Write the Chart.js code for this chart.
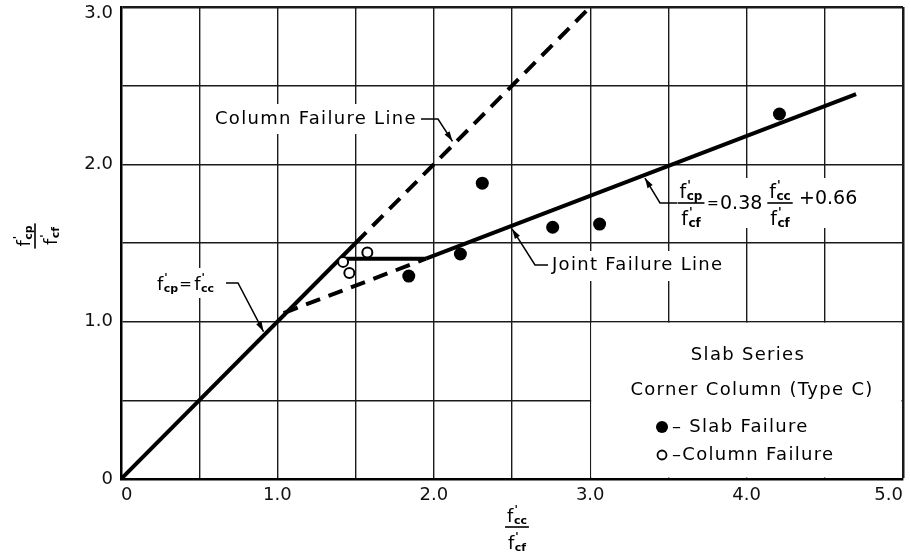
<!DOCTYPE html>
<html>
<head>
<meta charset="utf-8">
<script src="https://cdn.jsdelivr.net/npm/chart.js@4.4.1/dist/chart.umd.min.js"></script>
<style>
  html, body { margin: 0; padding: 0; background: #fff; }
</style>
</head>
<body>
<canvas id="chart" width="910" height="560"></canvas>
<script>
// Slab series, corner column (type C): f'cp/f'cf against f'cc/f'cf

// axis tick labels (gridlines every 0.5, labels on whole numbers)
const xTickValues = [0, 1, 2, 3, 4, 5];
const xTickLabels = ['0', '1.0', '2.0', '3.0', '4.0', '5.0'];
const yTickValues = [0, 1, 2, 3];
const yTickLabels = ['0', '1.0', '2.0', '3.0'];

// test results
const slabX = [1.84, 2.17, 2.31, 2.76, 3.06, 4.21];
const slabY = [1.29, 1.43, 1.88, 1.60, 1.62, 2.32];
const colX = [1.42, 1.46, 1.575];
const colY = [1.38, 1.31, 1.44];

// line end points
const equalX = [0, 1.5];          // f'cp = f'cc
const equalY = [0, 1.5];
const columnX = [1.5, 3.0];       // column failure line (dashed)
const columnY = [1.5, 3.0];
const jointDashX = [1.04, 1.95];  // joint line, dashed part
const jointDashY = [1.055, 1.40];
const jointX = [1.95, 4.70];      // joint failure line
const jointY = [1.40, 2.446];
const capX = [1.41, 1.95];
const capY = [1.40, 1.40];

const pts = (xs, ys) => xs.map((x, i) => ({ x: x, y: ys[i] }));

const FONT = '"DejaVu Sans", sans-serif';

// f' with a subscript, left at x, baseline y. returns width
function fSym(ctx, x, y, sub, size, dry) {
    ctx.font = size + 'px ' + FONT;
    const w = ctx.measureText('f').width;
    ctx.font = 'bold ' + Math.round(size * 0.62) + 'px ' + FONT;
    const ws = ctx.measureText(sub).width;
    if (dry) return w + 0.5 + ws;
    ctx.textAlign = 'left';
    ctx.textBaseline = 'alphabetic';
    ctx.font = size + 'px ' + FONT;
    ctx.fillText('f', x, y);
    ctx.font = 'bold ' + Math.round(size * 0.62) + 'px ' + FONT;
    ctx.fillText("'", x + w + 1, y - size * 0.5);
    ctx.fillText(sub, x + w + 0.5, y + 2);
    return w + 0.5 + ws;
}

function frac(ctx, cx, cy, top, bot, size) {
    const wt = fSym(ctx, 0, 0, top, size, true);
    const wb = fSym(ctx, 0, 0, bot, size, true);
    const w = Math.max(wt, wb);
    fSym(ctx, cx - wt / 2, cy - 5, top, size);
    fSym(ctx, cx - wb / 2, cy + 22, bot, size);
    ctx.fillRect(cx - w / 2 - 2, cy - 0.8, w + 4, 1.6);
}

function text(ctx, s, x, y, align, size) {
    ctx.font = (size || 18) + 'px ' + FONT;
    ctx.letterSpacing = '1.3px';
    ctx.textAlign = align || 'left';
    ctx.textBaseline = 'middle';
    ctx.fillText(s, x, y);
    ctx.letterSpacing = '0px';
}

// leader: polyline ending in an arrow head at the last point
function leader(ctx, path) {
    const n = path.length;
    const [ax, ay] = path[n - 2];
    let [bx, by] = path[n - 1];
    const len = Math.hypot(bx - ax, by - ay);
    const ux = (bx - ax) / len, uy = (by - ay) / len;
    bx -= ux * 3; by -= uy * 3;
    ctx.beginPath();
    ctx.moveTo(path[0][0], path[0][1]);
    for (let i = 1; i < n - 1; i++) ctx.lineTo(path[i][0], path[i][1]);
    ctx.lineTo(bx, by);
    ctx.lineWidth = 1.5;
    ctx.stroke();
    ctx.beginPath();
    ctx.moveTo(bx, by);
    ctx.lineTo(bx - ux * 10 - uy * 3, by - uy * 10 + ux * 3);
    ctx.lineTo(bx - ux * 10 + uy * 3, by - uy * 10 - ux * 3);
    ctx.closePath();
    ctx.fill();
}

const figurePlugin = {
    id: 'figure',
    beforeDatasetsDraw(chart) {
        const { ctx, scales: { x, y } } = chart;
        ctx.save();
        ctx.fillStyle = '#fff';
        // legend box over the lower right cells
        ctx.fillRect(x.getPixelForValue(3) + 1, y.getPixelForValue(1) + 1,
            x.getPixelForValue(5) - x.getPixelForValue(3) - 2.5,
            y.getPixelForValue(0) - y.getPixelForValue(1) - 2.5);
        // gaps in the grid behind the labels
        ctx.fillRect(209, 104, 214, 30);
        ctx.fillRect(153, 268, 74, 30);
        ctx.fillRect(547, 251, 180, 30);
        ctx.fillRect(673, 178, 192, 50);
        ctx.restore();
    },
    afterDatasetsDraw(chart) {
        const { ctx, scales: { x, y } } = chart;
        const px = (a, b) => [x.getPixelForValue(a), y.getPixelForValue(b)];
        ctx.save();
        ctx.fillStyle = '#000';
        ctx.strokeStyle = '#000';

        text(ctx, 'Column Failure Line', 215, 119);
        leader(ctx, [[421, 119], [438, 119], px(2.13, 2.13)]);

        let xx = fSym(ctx, 157, 290, 'cp', 18) + 157;
        ctx.font = '15px ' + FONT;
        ctx.textAlign = 'left';
        ctx.fillText('=', xx + 1, 289);
        fSym(ctx, xx + 16, 290, 'cc', 18);
        leader(ctx, [[226, 283], [238, 283], px(0.92, 0.92)]);

        text(ctx, 'Joint Failure Line', 552, 265);
        leader(ctx, [[548, 265], [535, 265], px(2.49, 1.606)]);

        frac(ctx, 691, 203, 'cp', 'cf', 19);
        ctx.font = '14px ' + FONT;
        ctx.textAlign = 'left';
        ctx.textBaseline = 'middle';
        ctx.fillText('=', 707, 204);
        ctx.font = '19px ' + FONT;
        ctx.fillText('0.38', 720, 204);
        frac(ctx, 780, 203, 'cc', 'cf', 19);
        ctx.font = '19px ' + FONT;
        ctx.fillText('+0.66', 799, 204);
        leader(ctx, [[677, 203], [660, 203], px(3.34, 1.929)]);

        // legend
        text(ctx, 'Slab Series', 748, 355, 'center');
        text(ctx, 'Corner Column (Type C)', 752, 390, 'center');
        ctx.beginPath();
        ctx.arc(662, 427, 6, 0, Math.PI * 2);
        ctx.fill();
        text(ctx, '– Slab Failure', 672, 427);
        ctx.beginPath();
        ctx.arc(662, 455, 4.5, 0, Math.PI * 2);
        ctx.lineWidth = 1.8;
        ctx.stroke();
        text(ctx, '–Column Failure', 672, 455);

        // axis titles
        frac(ctx, 517, 527, 'cc', 'cf', 18);
        ctx.translate(35, 236);
        ctx.rotate(-Math.PI / 2);
        frac(ctx, 0, 0, 'cp', 'cf', 18);
        ctx.restore();
    }
};

const lineSet = (data, dashed) => ({
    data: data,
    showLine: true,
    borderColor: '#000',
    borderWidth: 4,
    borderDash: dashed ? [15, 9] : [],
    borderCapStyle: 'butt',
    pointRadius: 0,
    fill: false
});

new Chart(document.getElementById('chart'), {
    type: 'scatter',
    data: {
        datasets: [
            {
                label: 'Slab Failure',
                data: pts(slabX, slabY),
                pointRadius: 6.5,
                pointBackgroundColor: '#000',
                pointBorderColor: '#000',
                pointBorderWidth: 0
            },
            {
                label: 'Column Failure',
                data: pts(colX, colY),
                pointRadius: 5,
                pointBackgroundColor: '#fff',
                pointBorderColor: '#000',
                pointBorderWidth: 2
            },
            lineSet(pts(equalX, equalY), false),
            lineSet(pts(columnX, columnY), true),
            lineSet(pts(jointDashX, jointDashY), true),
            lineSet(pts(jointX, jointY), false),
            lineSet(pts(capX, capY), false)
        ]
    },
    options: {
        responsive: false,
        animation: false,
        devicePixelRatio: 1,
        layout: { padding: { left: 0, right: 4, top: 7, bottom: 0 } },
        plugins: { legend: { display: false }, tooltip: { enabled: false } },
        scales: {
            x: {
                type: 'linear',
                min: 0,
                max: 5,
                afterFit(s) { s.height = 81; s.paddingLeft = 0; s.paddingRight = 0; },
                grid: {
                    color: '#1a1a1a',
                    lineWidth: c => (c.tick && c.tick.value === 5 ? 2.5 : 1.4),
                    drawTicks: false
                },
                border: { color: '#000', width: 2.5 },
                ticks: {
                    stepSize: 0.5,
                    autoSkip: false,
                    maxRotation: 0,
                    align: 'inner',
                    padding: 6,
                    color: '#111',
                    font: { family: 'DejaVu Sans', size: 18 },
                    callback: v => {
                        const i = xTickValues.indexOf(v);
                        return i >= 0 ? xTickLabels[i] : '';
                    }
                }
            },
            y: {
                type: 'linear',
                min: 0,
                max: 3,
                afterFit(s) { s.width = 121; s.paddingTop = 0; s.paddingBottom = 0; },
                grid: {
                    color: '#1a1a1a',
                    lineWidth: c => (c.tick && c.tick.value === 3 ? 2.5 : 1.4),
                    drawTicks: false
                },
                border: { color: '#000', width: 2.5 },
                ticks: {
                    stepSize: 0.5,
                    autoSkip: false,
                    padding: 8,
                    color: '#111',
                    // top label sits just under the frame, as in the figure
                    font: c => ({
                        family: 'DejaVu Sans',
                        size: 18,
                        lineHeight: c.tick && c.tick.value === 3 ? 0.7 : 1.2
                    }),
                    callback: v => {
                        const i = yTickValues.indexOf(v);
                        if (i < 0) return '';
                        return v === 3 ? ['', yTickLabels[i]] : yTickLabels[i];
                    }
                }
            }
        }
    },
    plugins: [figurePlugin]
});
</script>
</body>
</html>
